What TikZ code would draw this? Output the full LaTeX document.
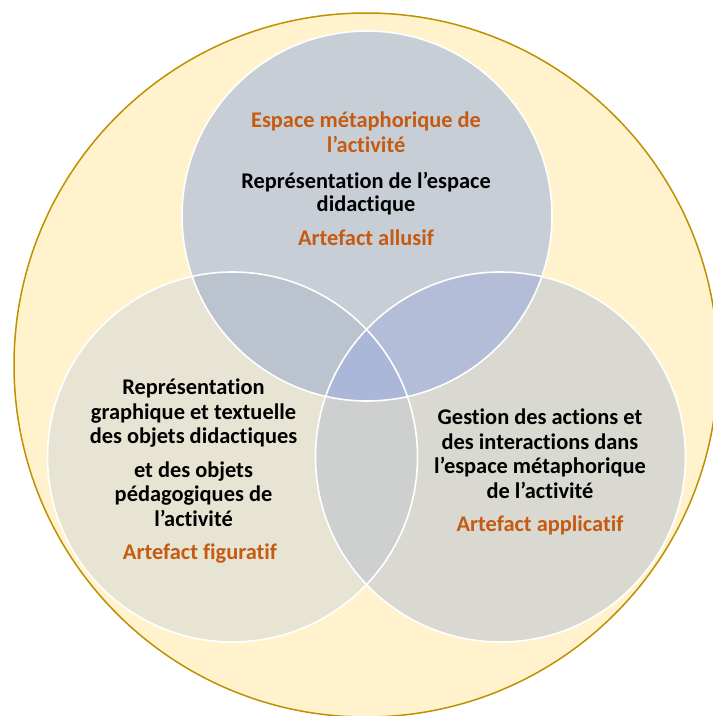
\documentclass[tikz,border=0pt]{standalone}
\usepackage{fontspec}
\setmainfont{Carlito}[Ligatures={NoCommon}]
\definecolor{outerfill}{HTML}{FFF2CC}
\definecolor{outerline}{HTML}{BF9000}
\definecolor{topfill}{HTML}{C8CED6}
\definecolor{leftfill}{HTML}{E8E4D3}
\definecolor{rightfill}{HTML}{D9D9D2}
\definecolor{tlfill}{HTML}{BAC3CE}
\definecolor{trfill}{HTML}{B3BDD7}
\definecolor{lrfill}{HTML}{CDD0CF}
\definecolor{centerfill}{HTML}{ABB7D8}
\definecolor{accent}{HTML}{C55A11}
\begin{document}
\begin{tikzpicture}[x=1pt,y=-1pt,
  txt/.style={font=\bfseries\fontsize{22.4}{27}\selectfont, inner sep=0pt, anchor=base, text=black},
  acc/.style={txt, text=accent},
  rim/.style={draw=white, line width=1.6pt}]
\useasboundingbox (0,0) rectangle (713,716);
\clip (0,0) rectangle (713,716);
\fill[white] (0,0) rectangle (713,716);
\coordinate (O) at (366,365);
\coordinate (T) at (367,216);
\coordinate (L) at (232.5,457);
\coordinate (R) at (500.5,457);
\filldraw[fill=outerfill, draw=outerline, line width=1.5pt] (O) circle[radius=352pt];
\fill[topfill] (T) circle[radius=185pt];
\fill[leftfill] (L) circle[radius=185pt];
\fill[rightfill] (R) circle[radius=185pt];
\begin{scope}
  \clip (L) circle[radius=185pt];
  \fill[lrfill] (R) circle[radius=185pt];
\end{scope}
\begin{scope}
  \clip (T) circle[radius=185pt];
  \fill[tlfill] (L) circle[radius=185pt];
  \fill[trfill] (R) circle[radius=185pt];
  \clip (L) circle[radius=185pt];
  \fill[centerfill] (R) circle[radius=185pt];
\end{scope}
\draw[rim] (T) circle[radius=185pt];
\draw[rim] (L) circle[radius=185pt];
\draw[rim] (R) circle[radius=185pt];
% top circle
\node[acc] (t1) at (366,127) {Espace métaphorique de};
\node[acc] (t2) at (366,152) {l’activité};
\node[txt] (t3) at (366,188) {Représentation de l’espace};
\node[txt] (t4) at (366,211) {didactique};
\node[acc] (t5) at (366,245) {Artefact allusif};
% left circle
\node[txt] (l1) at (193.5,394) {Représentation};
\node[txt] (l2) at (193.5,419) {graphique et textuelle};
\node[txt] (l3) at (193.5,443) {des objets didactiques};
\node[txt] (l4) at (193.5,477) {et des objets};
\node[txt] (l5) at (193.5,501) {pédagogiques de};
\node[txt] (l6) at (193.5,526) {l’activité};
\node[acc] (l7) at (200,559) {Artefact figuratif};
% right circle
\node[txt] (r1) at (540,424) {Gestion des actions et};
\node[txt] (r2) at (540,449) {des interactions dans};
\node[txt] (r3) at (540,473) {l’espace métaphorique};
\node[txt] (r4) at (540,498) {de l’activité};
\node[acc] (r5) at (540,531) {Artefact applicatif};
\end{tikzpicture}
\end{document}
